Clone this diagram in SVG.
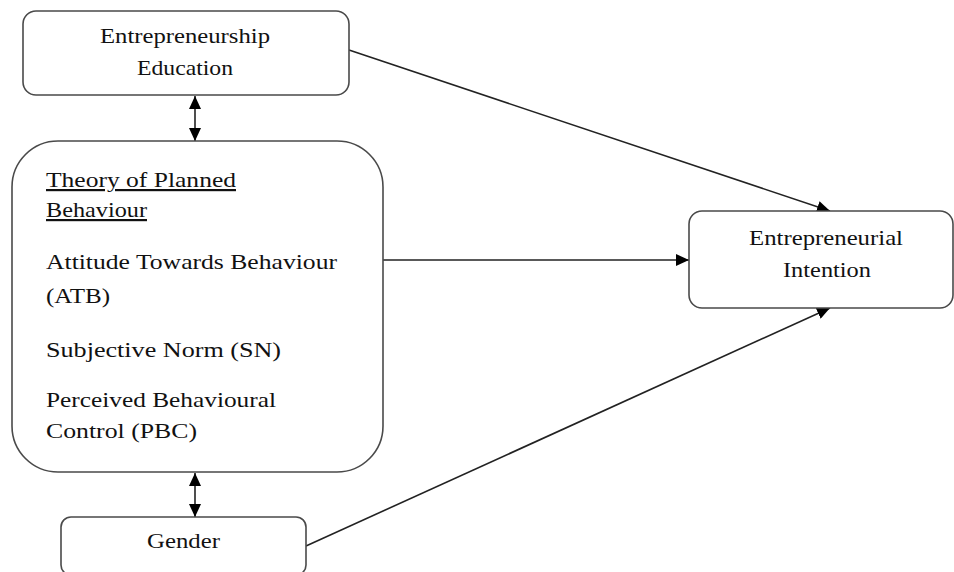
<svg xmlns="http://www.w3.org/2000/svg" width="954" height="572" viewBox="0 0 954 572">
<defs>
<style>
.box{fill:#fff;stroke:#4a4a4a;stroke-width:1.6}
.t{font-family:"Liberation Serif","Times New Roman",serif;font-size:22px;fill:#111}
.ln{stroke:#222;stroke-width:1.6;fill:none}
</style>
<marker id="ah" viewBox="0 0 13 12" refX="13" refY="6" markerWidth="13" markerHeight="12" markerUnits="userSpaceOnUse" orient="auto-start-reverse">
<path d="M0,0 L13,6 L0,12 Z" fill="#000"/>
</marker>
</defs>
<rect width="954" height="572" fill="#fff"/>
<g id="connectors">
<line class="ln" x1="195" y1="96" x2="195" y2="141" marker-start="url(#ah)" marker-end="url(#ah)"/>
<line class="ln" x1="195" y1="473" x2="195" y2="517" marker-start="url(#ah)" marker-end="url(#ah)"/>
<line class="ln" x1="349" y1="50" x2="830" y2="211" marker-end="url(#ah)"/>
<line class="ln" x1="383" y1="260" x2="689" y2="260" marker-end="url(#ah)"/>
<line class="ln" x1="306" y1="546" x2="830" y2="308" marker-end="url(#ah)"/>
</g>
<g id="education">
<rect class="box" x="23" y="11" width="326" height="84" rx="13"/>
<text class="t" x="185" y="43" text-anchor="middle" textLength="170" lengthAdjust="spacingAndGlyphs">Entrepreneurship</text>
<text class="t" x="185" y="75" text-anchor="middle" textLength="96" lengthAdjust="spacingAndGlyphs">Education</text>
</g>
<g id="tpb">
<rect class="box" x="12" y="141" width="371" height="331" rx="46"/>
<text class="t" x="46" y="187" text-decoration="underline" textLength="190" lengthAdjust="spacingAndGlyphs">Theory of Planned</text>
<text class="t" x="46" y="217" text-decoration="underline" textLength="101" lengthAdjust="spacingAndGlyphs">Behaviour</text>
<text class="t" x="46" y="269" textLength="291" lengthAdjust="spacingAndGlyphs">Attitude Towards Behaviour</text>
<text class="t" x="46" y="303" textLength="64" lengthAdjust="spacingAndGlyphs">(ATB)</text>
<text class="t" x="46" y="357" textLength="235" lengthAdjust="spacingAndGlyphs">Subjective Norm (SN)</text>
<text class="t" x="46" y="407" textLength="230" lengthAdjust="spacingAndGlyphs">Perceived Behavioural</text>
<text class="t" x="46" y="438" textLength="151" lengthAdjust="spacingAndGlyphs">Control (PBC)</text>
</g>
<g id="gender">
<rect class="box" x="61" y="517" width="245" height="58" rx="10"/>
<text class="t" x="183.5" y="548" text-anchor="middle" textLength="73" lengthAdjust="spacingAndGlyphs">Gender</text>
</g>
<g id="intention">
<rect class="box" x="689" y="211" width="264" height="97" rx="13"/>
<text class="t" x="826" y="245" text-anchor="middle" textLength="154" lengthAdjust="spacingAndGlyphs">Entrepreneurial</text>
<text class="t" x="827" y="277" text-anchor="middle" textLength="88" lengthAdjust="spacingAndGlyphs">Intention</text>
</g>
</svg>
